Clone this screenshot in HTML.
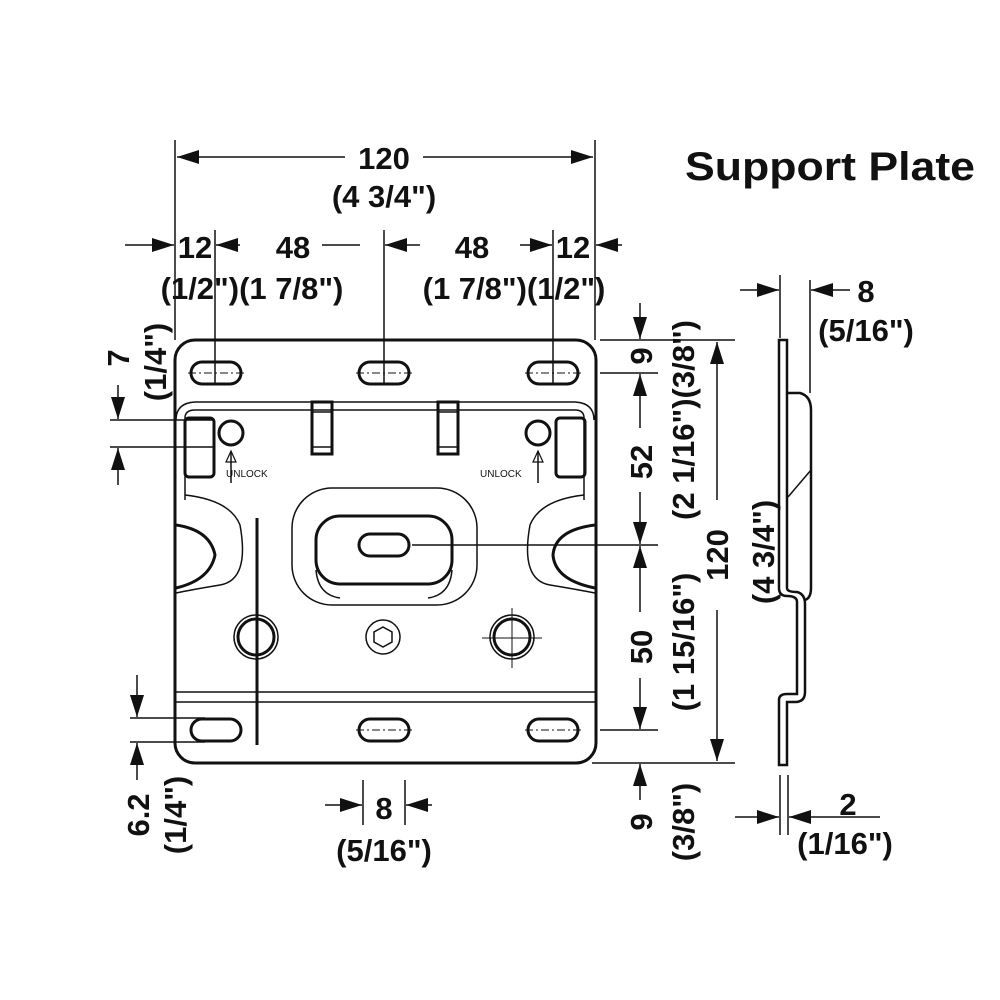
<!DOCTYPE html>
<html><head><style>
html,body{margin:0;padding:0;background:#fff;}
svg{display:block;}
text{font-family:"Liberation Sans",Arial,sans-serif;font-weight:bold;fill:#111;}
</style></head><body>
<svg width="1000" height="1000" viewBox="0 0 1000 1000" xmlns="http://www.w3.org/2000/svg">
<defs>
<marker id="a" markerUnits="userSpaceOnUse" markerWidth="24" markerHeight="14" refX="22" refY="7" orient="auto">
<path d="M0,0 L22,7 L0,14 Z" fill="#111"/>
</marker>
</defs>
<g stroke="#111" fill="none">
<!-- plate -->
<rect x="175" y="340" width="421" height="423" rx="20" stroke-width="3"/>
<path d="M176,420 Q176,403 195,402 L575,402 Q594,403 594,420" stroke-width="1.5"/>
<path d="M185,500 L185,418 Q185,410 195,410 L575,410 Q584,410 584,418 L584,500" stroke-width="1.5"/>
<line x1="176" y1="692" x2="595" y2="692" stroke-width="1.5"/>
<line x1="176" y1="702" x2="595" y2="702" stroke-width="1.5"/>
<!-- slots -->
<g stroke-width="3">
<rect x="191" y="362" width="50" height="22" rx="11"/>
<rect x="359" y="362" width="50" height="22" rx="11"/>
<rect x="528" y="362" width="50" height="22" rx="11"/>
<rect x="191" y="719" width="50" height="22" rx="11"/>
<rect x="359" y="719" width="50" height="22" rx="11"/>
<rect x="528" y="719" width="50" height="22" rx="11"/>
<rect x="359" y="534" width="50" height="22" rx="11"/>
</g>
<g stroke-width="1" stroke-dasharray="8,3,2,3">
<line x1="188" y1="373" x2="245" y2="373"/><line x1="356" y1="373" x2="413" y2="373"/><line x1="525" y1="373" x2="582" y2="373"/>
<line x1="356" y1="730" x2="413" y2="730"/><line x1="525" y1="730" x2="582" y2="730"/>
</g>
<!-- latches -->
<g stroke-width="3">
<rect x="185" y="418" width="29" height="59" rx="4"/>
<rect x="556" y="418" width="29" height="59" rx="4"/>
<circle cx="231" cy="433" r="12"/>
<circle cx="538" cy="433" r="12"/>
<rect x="312" y="402" width="20" height="52"/>
<rect x="438" y="402" width="20" height="52"/>
</g>
<line x1="312" y1="412" x2="332" y2="412" stroke-width="1.5"/><line x1="312" y1="447" x2="332" y2="447" stroke-width="1.5"/>
<line x1="438" y1="412" x2="458" y2="412" stroke-width="1.5"/><line x1="438" y1="447" x2="458" y2="447" stroke-width="1.5"/>
<line x1="231" y1="452" x2="231" y2="483" stroke-width="1.5"/>
<path d="M226,462 L231,451 L236,462 Z" stroke-width="1.2"/>
<line x1="538" y1="452" x2="538" y2="483" stroke-width="1.5"/>
<path d="M533,462 L538,451 L543,462 Z" stroke-width="1.2"/>
<!-- side cutouts -->
<path d="M185,495 Q230,500 240,525 Q250,580 220,585 Q190,590 176,593" stroke-width="1.5"/>
<path d="M176,525 Q210,530 215,555 Q210,580 176,588" stroke-width="3"/>
<path d="M584,495 Q540,500 530,525 Q520,580 550,585 Q580,590 595,593" stroke-width="1.5"/>
<path d="M595,525 Q555,530 553,555 Q555,580 595,588" stroke-width="3"/>
<!-- center dish -->
<rect x="292" y="488" width="185" height="117" rx="40" stroke-width="1.5"/>
<rect x="316" y="516" width="136" height="68" rx="24" stroke-width="3"/>
<path d="M316,570 Q318,595 340,598" stroke-width="1.5"/>
<path d="M452,570 Q450,595 428,598" stroke-width="1.5"/>
<line x1="257" y1="518" x2="257" y2="745" stroke-width="3"/>
<!-- holes -->
<circle cx="256" cy="637" r="22" stroke-width="1.5"/><circle cx="256" cy="637" r="18" stroke-width="3"/>
<circle cx="512" cy="637" r="22" stroke-width="1.5"/><circle cx="512" cy="637" r="18" stroke-width="3"/>
<circle cx="383" cy="637" r="17" stroke-width="1.5"/>
<path d="M383,627 L392,632 L392,642 L383,647 L374,642 L374,632 Z" stroke-width="1.5"/>
<line x1="482" y1="638" x2="542" y2="638" stroke-width="1"/>
<line x1="512" y1="608" x2="512" y2="668" stroke-width="1"/>
<!-- side profile -->
<path d="M787,765 L779,765 L779,700 Q779,694 787,694 L797,694 L797,602 Q797,596 787,596 Q779,596 779,588 L779,340 L787,340 L787,588 Q787,592 797,592 Q805,594 805,604 L805,692 Q805,702 795,702 L787,702 Z" stroke-width="2.5"/>
<path d="M787,393 L800,393 Q811,396 811,410 L811,588 Q811,598 805,600" stroke-width="2.5"/>
<path d="M788,497 L811,470" stroke-width="1.5"/>
<!-- dimension lines -->
<g stroke-width="1.5">
<line x1="175" y1="140" x2="175" y2="340"/><line x1="595" y1="140" x2="595" y2="340"/>
<line x1="215" y1="230" x2="215" y2="385"/><line x1="384" y1="230" x2="384" y2="385"/><line x1="553" y1="230" x2="553" y2="385"/>
<line x1="345" y1="157" x2="177" y2="157" marker-end="url(#a)"/>
<line x1="423" y1="157" x2="593" y2="157" marker-end="url(#a)"/>
<line x1="125" y1="245" x2="174" y2="245" marker-end="url(#a)"/>
<line x1="240" y1="245" x2="216" y2="245" marker-end="url(#a)"/>
<line x1="322" y1="245" x2="360" y2="245"/>
<line x1="420" y1="245" x2="385" y2="245" marker-end="url(#a)"/>
<line x1="520" y1="245" x2="552" y2="245" marker-end="url(#a)"/>
<line x1="622" y1="245" x2="596" y2="245" marker-end="url(#a)"/>
<!-- left -->
<line x1="110" y1="420" x2="215" y2="420"/><line x1="110" y1="447" x2="215" y2="447"/>
<line x1="118" y1="385" x2="118" y2="419" marker-end="url(#a)"/>
<line x1="118" y1="485" x2="118" y2="448" marker-end="url(#a)"/>
<line x1="130" y1="718" x2="205" y2="718"/><line x1="130" y1="742" x2="205" y2="742"/>
<line x1="137" y1="675" x2="137" y2="717" marker-end="url(#a)"/>
<line x1="137" y1="780" x2="137" y2="743" marker-end="url(#a)"/>
<!-- bottom 8 -->
<line x1="363" y1="780" x2="363" y2="825"/><line x1="405" y1="780" x2="405" y2="825"/>
<line x1="325" y1="805" x2="362" y2="805" marker-end="url(#a)"/>
<line x1="432" y1="805" x2="406" y2="805" marker-end="url(#a)"/>
<!-- right -->
<line x1="600" y1="340" x2="735" y2="340"/><line x1="600" y1="373" x2="658" y2="373"/>
<line x1="412" y1="545" x2="658" y2="545"/><line x1="600" y1="730" x2="658" y2="730"/>
<line x1="592" y1="763" x2="735" y2="763"/>
<line x1="640" y1="303" x2="640" y2="339" marker-end="url(#a)"/>
<line x1="640" y1="395" x2="640" y2="374" marker-end="url(#a)"/>
<line x1="640" y1="520" x2="640" y2="544" marker-end="url(#a)"/>
<line x1="640" y1="570" x2="640" y2="546" marker-end="url(#a)"/>
<line x1="640" y1="705" x2="640" y2="729" marker-end="url(#a)"/>
<line x1="640" y1="800" x2="640" y2="764" marker-end="url(#a)"/>
<line x1="640" y1="395" x2="640" y2="428"/><line x1="640" y1="492" x2="640" y2="520"/>
<line x1="640" y1="570" x2="640" y2="612"/><line x1="640" y1="678" x2="640" y2="705"/>
<line x1="717" y1="500" x2="717" y2="342" marker-end="url(#a)"/>
<line x1="717" y1="610" x2="717" y2="761" marker-end="url(#a)"/>
<!-- side dims -->
<line x1="780" y1="275" x2="780" y2="338"/><line x1="810" y1="280" x2="810" y2="393"/>
<line x1="740" y1="290" x2="779" y2="290" marker-end="url(#a)"/>
<line x1="850" y1="290" x2="811" y2="290" marker-end="url(#a)"/>
<line x1="780" y1="775" x2="780" y2="835"/><line x1="788" y1="775" x2="788" y2="835"/>
<line x1="735" y1="817" x2="779" y2="817" marker-end="url(#a)"/>
<line x1="880" y1="817" x2="789" y2="817" marker-end="url(#a)"/>
</g>
</g>
<text x="226" y="477" font-size="10" style="font-weight:normal">UNLOCK</text>
<text x="480" y="477" font-size="10" style="font-weight:normal">UNLOCK</text>
<g font-size="31" text-anchor="middle">
<text x="384" y="169">120</text>
<text x="384" y="207">(4 3/4")</text>
<text x="195" y="258">12</text>
<text x="293" y="258">48</text>
<text x="472" y="258">48</text>
<text x="573" y="258">12</text>
<text x="252" y="299">(1/2")(1 7/8")</text>
<text x="514" y="299">(1 7/8")(1/2")</text>
<text x="384" y="819">8</text>
<text x="384" y="861">(5/16")</text>
<text x="866" y="302">8</text>
<text x="866" y="341">(5/16")</text>
<text x="848" y="815">2</text>
<text x="845" y="854">(1/16")</text>
<text transform="translate(129,358) rotate(-90)">7</text>
<text transform="translate(166,362) rotate(-90)">(1/4")</text>
<text transform="translate(149,815) rotate(-90)">6.2</text>
<text transform="translate(186,815) rotate(-90)">(1/4")</text>
<text transform="translate(652,356) rotate(-90)">9</text>
<text transform="translate(694,420) rotate(-90)">(2 1/16")(3/8")</text>
<text transform="translate(652,462) rotate(-90)">52</text>
<text transform="translate(652,647) rotate(-90)">50</text>
<text transform="translate(694,642) rotate(-90)">(1 15/16")</text>
<text transform="translate(728,555) rotate(-90)">120</text>
<text transform="translate(774,552) rotate(-90)">(4 3/4")</text>
<text transform="translate(652,822) rotate(-90)">9</text>
<text transform="translate(694,822) rotate(-90)">(3/8")</text>
</g>
<text x="685" y="180" font-size="40" textLength="290" lengthAdjust="spacingAndGlyphs">Support Plate</text>
</svg>
</body></html>
